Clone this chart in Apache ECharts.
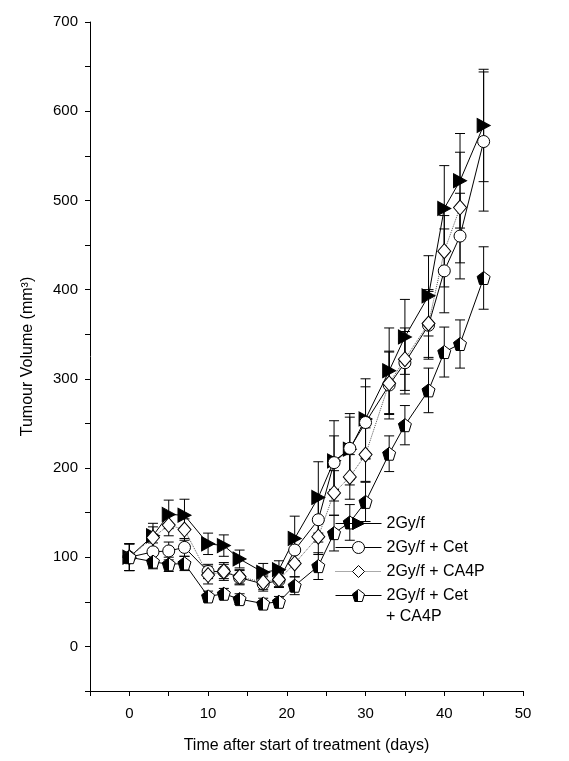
<!DOCTYPE html>
<html><head><meta charset="utf-8">
<script src="https://cdn.jsdelivr.net/npm/echarts@6/dist/echarts.min.js"></script>
<style>html,body{margin:0;padding:0;background:#fff}#c{width:569px;height:761px}</style>
</head><body><div id="c"></div>
<script>
const days = [0,3,5,7,10,12,14,17,19,21,24,26,28,30,33,35,38,40,42,45];
const names = ['2Gy/f','2Gy/f + Cet','2Gy/f + CA4P','2Gy/f + Cet + CA4P'];
const legendFirstLine = ['2Gy/f','2Gy/f + Cet','2Gy/f + CA4P','2Gy/f + Cet'];
const legendSecondLine = '+ CA4P';
const triVal = [100,124,148,147,115,113,98,83,86,121,167,208,221,255,309,347,393,491,522,584];
const triErr = [15,14,16,18,12,12,10,10,10,25,40,45,40,45,48,42,45,48,53,63];
const cirVal = [100,106,107,111,84,84,77,70,74,108,142,206,222,251,293,318,360,421,460,566];
const cirErr = [15,10,10,10,8,8,8,8,8,12,25,30,35,40,38,35,38,47,48,78];
const diaVal = [100,122,136,131,80,84,78,72,75,93,123,172,190,215,295,322,362,443,492,null];
const diaErr = [15,12,12,12,10,10,8,8,8,15,20,25,25,30,35,35,38,40,62,null];
const penVal = [100,95,92,93,56,59,53,48,50,68,90,127,139,162,216,248,287,330,339,413];
const penErr = [15,8,8,8,6,6,6,6,6,10,15,20,20,22,20,22,25,28,27,35];
const xTickLabels = [0,10,20,30,40,50];
const yTickLabels = [0,100,200,300,400,500,600,700];

const FONT = 'Liberation Sans, Arial, sans-serif';
const vals = [triVal, cirVal, diaVal, penVal];
const errs = [triErr, cirErr, diaErr, penErr];

const halfFill = {type:'linear',x:0,y:0,x2:1,y2:0,colorStops:[
  {offset:0,color:'#000'},{offset:0.5,color:'#000'},{offset:0.5,color:'#fff'},{offset:1,color:'#fff'}]};

const styles = [
  {symbol:'path://M0 0 L100 50 L0 100 Z', symbolSize:[13,14], color:'#000', line:{type:'solid',color:'#000',width:1}},
  {symbol:'circle', symbolSize:12, color:'#fff', line:{type:'solid',color:'#000',width:1}},
  {symbol:'path://M50 0 L100 50 L50 100 L0 50 Z', symbolSize:[13,15], color:'#fff', line:{type:'dotted',color:'#555',width:1}},
  {symbol:'path://M50 0 L100 36 L81 95 L19 95 L0 36 Z', symbolSize:13, color:halfFill, line:{type:'solid',color:'#000',width:1}}
];

const series = [];
vals.forEach((v, i) => {
  const errData = [];
  days.forEach((d, j) => {
    if (v[j] != null) errData.push([d, v[j] - errs[i][j], v[j] + errs[i][j]]);
  });
  series.push({
    type:'custom', name:'err'+i, z:2, silent:true,
    data: errData,
    renderItem: function(params, api){
      const x = api.value(0);
      const lo = api.coord([x, api.value(1)]);
      const hi = api.coord([x, api.value(2)]);
      const cw = 5;
      const st = {stroke:'#000', lineWidth:1};
      return {type:'group', children:[
        {type:'line', shape:{x1:lo[0],y1:lo[1],x2:hi[0],y2:hi[1]}, style:st},
        {type:'line', shape:{x1:lo[0]-cw,y1:lo[1],x2:lo[0]+cw,y2:lo[1]}, style:st},
        {type:'line', shape:{x1:hi[0]-cw,y1:hi[1],x2:hi[0]+cw,y2:hi[1]}, style:st}
      ]};
    }
  });
});
vals.forEach((v, i) => {
  const s = styles[i];
  series.push({
    type:'line', name:names[i], z:3,
    data: days.map((d, j) => v[j] == null ? null : [d, v[j]]).filter(p => p),
    symbol:s.symbol, symbolSize:s.symbolSize, symbolKeepAspect:false,
    showAllSymbol:true,
    lineStyle:s.line,
    itemStyle:{color:s.color, borderColor:'#000', borderWidth:1, opacity:1},
    emphasis:{disabled:true},
    animation:false
  });
});

const chart = echarts.init(document.getElementById('c'), null, {renderer:'canvas'});
chart.setOption({
  animation:false,
  backgroundColor:'#fff',
  grid:{left:90, right:46, top:22, bottom:70, containLabel:false},
  legend:{
    orient:'vertical', left:330, top:507,
    itemWidth:46, itemHeight:15, itemGap:1,
    lineStyle:{width:1},
    itemStyle:{borderWidth:1},
    textStyle:{fontFamily:FONT, fontSize:16, color:'#000', lineHeight:23},
    formatter: n => legendFirstLine[names.indexOf(n)],
    data:names.slice(),
    selectedMode:false
  },
  graphic:[{
    type:'text', left:386, top:609,
    style:{text:legendSecondLine, fontFamily:FONT, fontSize:16, fill:'#000'}
  }],
  xAxis:{
    type:'value', min:-5, max:50, interval:5,
    name:'Time after start of treatment (days)', nameLocation:'middle', nameGap:47,
    nameTextStyle:{fontFamily:FONT, fontSize:16, color:'#000'},
    axisLine:{onZero:false, lineStyle:{color:'#000', width:1}},
    axisTick:{length:5, lineStyle:{color:'#000'}},
    axisLabel:{margin:15, fontFamily:FONT, fontSize:15, color:'#000',
      formatter: v => xTickLabels.indexOf(v) >= 0 ? String(v) : ''},
    splitLine:{show:false}
  },
  yAxis:{
    type:'value', min:-50, max:700, interval:50,
    name:'Tumour Volume (mm³)', nameLocation:'middle', nameGap:54,
    nameTextStyle:{fontFamily:FONT, fontSize:16, color:'#000'},
    axisLine:{show:true, onZero:false, lineStyle:{color:'#000', width:1}},
    axisTick:{show:true, length:5, lineStyle:{color:'#000'}},
    axisLabel:{margin:12, fontFamily:FONT, fontSize:15, color:'#000',
      formatter: v => yTickLabels.indexOf(v) >= 0 ? String(v) : ''},
    splitLine:{show:false}
  },
  series: series
});
</script>
</body></html>
